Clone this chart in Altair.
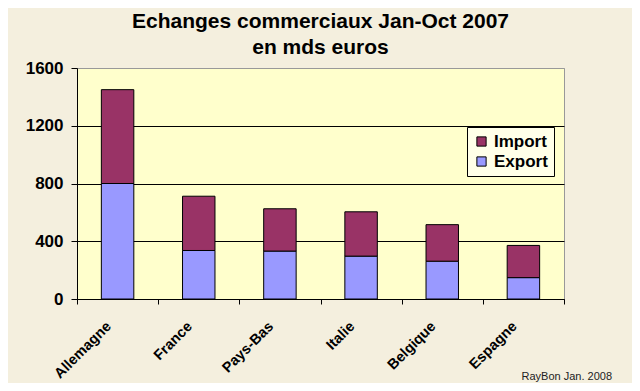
import altair as alt
import pandas as pd

countries = ["Allemagne", "France", "Pays-Bas", "Italie", "Belgique", "Espagne"]
export_vals = [800, 336, 332, 297, 262, 148]
import_vals = [650, 376, 293, 307, 253, 223]
series = ["Import", "Export"]
colors = ["#993366", "#9999ff"]
y_ticks = [0, 400, 800, 1200, 1600]

rows = []
for c, e, i in zip(countries, export_vals, import_vals):
    rows.append({"pays": c, "serie": "Export", "valeur": e, "ordre": 0})
    rows.append({"pays": c, "serie": "Import", "valeur": i, "ordre": 1})
df = pd.DataFrame(rows)

font = "Liberation Sans"

bars = alt.Chart(df).mark_bar(
    width=alt.RelativeBandSize(0.4), stroke="black", strokeWidth=1
).encode(
    x=alt.X("pays:N", sort=countries, title=None,
            scale=alt.Scale(paddingInner=0, paddingOuter=0),
            axis=alt.Axis(labelAngle=-45, labelAlign="right", labelBaseline="top",
                          labelFont=font, labelFontSize=14.5, labelFontWeight="bold",
                          labelColor="black", labelPadding=15, labelOffset=-14,
                          tickBand="extent", tickColor="black", tickSize=5,
                          domainColor="black", grid=False)),
    y=alt.Y("valeur:Q", stack="zero", title=None,
            scale=alt.Scale(domain=[0, 1600], nice=False),
            axis=alt.Axis(values=y_ticks, format="d", labelFont=font, labelFontSize=17,
                          labelFontWeight="bold", labelColor="black", labelPadding=8,
                          tickColor="black", tickSize=6, domainColor="black",
                          gridColor=alt.condition(alt.datum.value == 1600,
                                                  alt.value("#999999"),
                                                  alt.value("black")),
                          gridOpacity=1)),
    color=alt.Color("serie:N", scale=alt.Scale(domain=series, range=colors),
                    legend=alt.Legend(title=None, orient="none", legendX=390, legendY=59,
                                      symbolType="square", symbolSize=85,
                                      symbolStrokeColor="black", symbolStrokeWidth=1,
                                      symbolOpacity=1,
                                      labelFont=font, labelFontSize=17,
                                      labelFontWeight="bold", labelColor="black",
                                      fillColor="#ffffe8", strokeColor="black",
                                      padding=6, rowPadding=2)),
    order=alt.Order("ordre:Q"),
)

credit = alt.Chart(pd.DataFrame({"t": ["RayBon Jan. 2008"]})).mark_text(
    align="right", baseline="alphabetic", font=font, fontSize=11, color="#222222"
).encode(text="t:N", x=alt.value(535), y=alt.value(312))

chart = alt.layer(bars, credit).properties(
    width=487, height=231,
    autosize=alt.AutoSizeParams(type="none"),
    padding={"left": 69, "top": 60, "right": 68, "bottom": 84},
    background="#f4efde",
    title=alt.Title(["Echanges commerciaux Jan-Oct 2007", "en mds euros"],
                    font=font, fontSize=21, fontWeight="bold", color="black",
                    lineHeight=26, offset=1, anchor="middle"),
).configure_view(fill="#ffffcc", stroke="#999999", strokeWidth=1)

chart.save("out.html", embed_options={"renderer": "svg", "actions": False})
